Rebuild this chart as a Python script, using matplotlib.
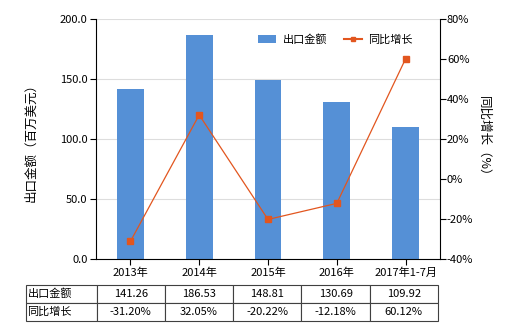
import matplotlib
matplotlib.use("Agg")
import matplotlib.pyplot as plt
from matplotlib.lines import Line2D
from matplotlib.patches import Patch
import numpy as np

plt.rcParams['font.family'] = ['Noto Sans CJK SC', 'DejaVu Sans']

categories = ["2013年", "2014年", "2015年", "2016年", "2017年1-7月"]
export_values = [141.26, 186.53, 148.81, 130.69, 109.92]
growth_pct = [-31.20, 32.05, -20.22, -12.18, 60.12]
row_labels = ["出口金额", "同比增长"]

bar_color = "#5590D6"
line_color = "#E2561F"

fig = plt.figure(figsize=(5.2, 3.3), dpi=100)
ax = fig.add_axes([96/520, 1-259/330, 344/520, 240/330])
x = np.arange(len(categories))
ax.bar(x, export_values, width=0.39, color=bar_color, zorder=2)
ax.set_xlim(-0.5, len(categories)-0.5)
ax.set_ylim(0, 200)
ax.set_yticks([0, 50, 100, 150, 200])
ax.set_yticklabels([f"{v:.1f}" for v in [0, 50, 100, 150, 200]], fontsize=8)
ax.set_xticks(x)
ax.set_xticklabels(categories, fontsize=8)
ax.grid(axis='y', color='#DDDDDD', linewidth=0.8, zorder=0)
ax.set_axisbelow(True)
ax.spines['top'].set_visible(False)
ax.spines['right'].set_visible(False)
ax.spines['left'].set_color('black')
ax.spines['bottom'].set_color('black')
ax.tick_params(axis='both', length=4, width=0.8, colors='black', pad=2)
ax.set_ylabel("出口金额（百万美元）", fontsize=9, labelpad=16)

ax2 = ax.twinx()
ax2.plot(x, growth_pct, color=line_color, linewidth=0.9, marker='s', markersize=4,
         markerfacecolor=line_color, markeredgecolor=line_color, zorder=3)
ax2.set_ylim(-40, 80)
ax2.set_yticks([-40, -20, 0, 20, 40, 60, 80])
ax2.set_yticklabels([f"{v}%" for v in [-40, -20, 0, 20, 40, 60, 80]], fontsize=8)
ax2.spines['top'].set_visible(False)
ax2.spines['left'].set_visible(False)
ax2.spines['bottom'].set_visible(False)
ax2.tick_params(axis='y', length=4, width=0.8, pad=1)
ax2.set_ylabel("同比增长（%）", fontsize=9, rotation=-90, labelpad=12)

handles = [Patch(facecolor=bar_color), Line2D([0], [0], color=line_color, marker='s', markersize=3, linewidth=1.5)]
ax.legend(handles, ["出口金额", "同比增长"], loc='upper right', bbox_to_anchor=(0.95, 0.98),
          ncol=2, frameon=False, fontsize=8, handlelength=1.6, columnspacing=1.5, handletextpad=0.6)

cell_text = [[row_labels[0]] + [f"{v:.2f}" for v in export_values],
             [row_labels[1]] + [f"{v:.2f}%" for v in growth_pct]]
tbl = ax.table(cellText=cell_text, cellLoc='center',
               colWidths=[71] + [68.6]*5,
               bbox=[(26-96)/344, (259-321)/240, (438-26)/344, 36/240])
tbl.auto_set_font_size(False)
tbl.set_fontsize(8)
for (r, c), cell in tbl.get_celld().items():
    cell.set_edgecolor('#404040')
    cell.set_linewidth(0.8)
    if c == 0:
        cell.get_text().set_ha('left')
        cell._loc = 'left'
        cell.PAD = 0.02

fig.savefig("out.png", dpi=100)
